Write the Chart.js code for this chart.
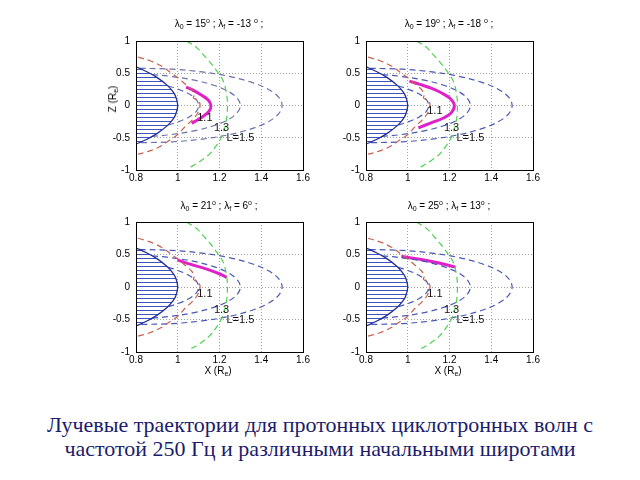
<!DOCTYPE html>
<html><head><meta charset="utf-8">
<script src="https://cdn.jsdelivr.net/npm/chart.js@4/dist/chart.umd.min.js"></script>
<style>
body{margin:0;background:#fff;width:640px;height:480px;position:relative;overflow:hidden;font-family:"Liberation Sans",Arial,sans-serif}
canvas{position:absolute}
.t{position:absolute;font-size:10px;line-height:12px;white-space:nowrap;transform:translate(-50%,-50%);color:#000}
.t sub{font-size:7px;vertical-align:-2px;line-height:0}
.t sup{font-size:7px;vertical-align:4px;line-height:0}
.yl{transform:translate(-50%,-50%) rotate(-90deg)}
.cap{position:absolute;left:0;width:640px;top:413px;text-align:center;font-family:"Liberation Serif","Times New Roman",serif;font-size:22px;line-height:24px;color:#1c1c6a}
</style></head>
<body>
<canvas id="c0" width="222" height="161" style="left:96px;top:29px"></canvas>
<canvas id="c1" width="222" height="161" style="left:326px;top:29px"></canvas>
<canvas id="c2" width="222" height="162" style="left:96px;top:210px"></canvas>
<canvas id="c3" width="222" height="162" style="left:326px;top:210px"></canvas>
<div id="titles"></div>
<div class="t yl" style="left:113px;top:99px">Z (R<sub>e</sub>)</div>
<div class="t" style="left:218px;top:371px">X (R<sub>e</sub>)</div>
<div class="t" style="left:448px;top:371px">X (R<sub>e</sub>)</div>
<div class="cap">Лучевые траектории для протонных циклотронных волн с<br>частотой 250 Гц и различными начальными широтами</div>
<script>
// ---- data ----
const xTicks = [0.8, 1, 1.2, 1.4, 1.6];
const xTickLabels = ['0.8', '1', '1.2', '1.4', '1.6'];
const zTicks = [-1, -0.5, 0, 0.5, 1];
const zTickLabels = ['-1', '-0.5', '0', '0.5', '1'];

const lambda0 = [15, 19, 21, 25];
const lambdaF = ['-13', '-18', '6', '13'];

const earthX = [0.8, 0.85, 0.9, 0.95, 0.975, 0.99, 1.0, 0.99, 0.975, 0.95, 0.9, 0.85, 0.8];
const earthZ = [0.6, 0.527, 0.436, 0.312, 0.222, 0.141, 0, -0.141, -0.222, -0.312, -0.436, -0.527, -0.6];

const l11X = [0.954, 0.991, 1.051, 1.088, 1.1, 1.088, 1.051, 0.991, 0.954];
const l11Z = [0.302, 0.266, 0.185, 0.095, 0, -0.095, -0.185, -0.266, -0.302];
const l13X = [0.877, 0.968, 1.079, 1.172, 1.242, 1.285, 1.3, 1.285, 1.242, 1.172, 1.079, 0.968, 0.877];
const l13Z = [0.48, 0.451, 0.393, 0.314, 0.219, 0.112, 0, -0.112, -0.219, -0.314, -0.393, -0.451, -0.48];
const l15X = [0.817, 0.974, 1.117, 1.245, 1.352, 1.433, 1.483, 1.5, 1.483, 1.433, 1.352, 1.245, 1.117, 0.974, 0.817];
const l15Z = [0.577, 0.563, 0.521, 0.453, 0.362, 0.253, 0.13, 0, -0.13, -0.253, -0.362, -0.453, -0.521, -0.563, -0.577];

const redX = [0.81, 0.87, 0.924, 0.97, 1.0, 1.04, 1.065, 1.08, 1.075, 1.1, 1.107, 1.095, 1.065, 1.04, 1.0, 0.96, 0.924, 0.87, 0.81];
const redZ = [0.75, 0.69, 0.607, 0.5, 0.43, 0.32, 0.25, 0.17, 0.12, 0.07, 0, -0.12, -0.24, -0.31, -0.45, -0.54, -0.62, -0.7, -0.755];

const greenX = [1.043, 1.09, 1.123, 1.16, 1.194, 1.215, 1.228, 1.237, 1.238, 1.237, 1.233, 1.222, 1.21, 1.185, 1.155, 1.11, 1.051];
const greenZ = [1.0, 0.9, 0.786, 0.65, 0.505, 0.4, 0.276, 0.1, 0, -0.12, -0.235, -0.38, -0.49, -0.62, -0.745, -0.86, -0.974];

const trajX = [
  [1.040, 1.075, 1.115, 1.147, 1.159, 1.151, 1.126, 1.094, 1.067],
  [1.008, 1.059, 1.115, 1.163, 1.202, 1.223, 1.21, 1.171, 1.115, 1.051],
  [0.999, 1.059, 1.139, 1.202, 1.234],
  [0.969, 1.059, 1.139, 1.229]
];
const trajZ = [
  [0.286, 0.235, 0.158, 0.082, -0.005, -0.082, -0.158, -0.224, -0.276],
  [0.378, 0.327, 0.265, 0.194, 0.112, 0.005, -0.107, -0.194, -0.265, -0.347],
  [0.418, 0.352, 0.276, 0.2, 0.149],
  [0.468, 0.428, 0.377, 0.306]
];

const lineLabels = ['1.1', '1.3', 'L=1.5'];
const lineLabelX = [1.13, 1.21, 1.30];
const lineLabelZ = [[-0.2, -0.35, -0.5], [-0.09, -0.35, -0.5], [-0.11, -0.35, -0.5], [-0.11, -0.35, -0.5]];

// ---- helpers ----
const pts = (xs, zs) => xs.map((x, i) => ({x: x, y: zs[i]}));

const pc = document.createElement('canvas');
pc.width = 4; pc.height = 4;
const pctx = pc.getContext('2d');
pctx.fillStyle = '#fff'; pctx.fillRect(0, 0, 4, 4);
pctx.fillStyle = '#4055bb'; pctx.fillRect(0, 0, 4, 1);
const hatch = pctx.createPattern(pc, 'repeat');

const BLUES = ['#6a70aa', '#4858b4', '#4858b4', '#4858b4'];
const RED = '#c8604c', GREEN = '#4ed24e', MAG = '#e020c8';

function makeDecor(k) {
  return {
    id: 'decor' + k,
    afterDatasetsDraw(chart) {
      const {ctx, chartArea: a, scales} = chart;
      ctx.save();
      ctx.fillStyle = '#111';
      ctx.font = '11px "Liberation Sans", Arial, sans-serif';
      ctx.textAlign = 'center';
      ctx.textBaseline = 'middle';
      lineLabels.forEach((s, i) => {
        ctx.fillText(s, scales.x.getPixelForValue(lineLabelX[i]), scales.y.getPixelForValue(lineLabelZ[k][i]));
      });
      ctx.strokeStyle = '#000';
      ctx.lineWidth = 1;
      ctx.setLineDash([]);
      ctx.strokeRect(Math.round(a.left) + 0.5, Math.round(a.top) + 0.5, Math.round(a.right - a.left), Math.round(a.bottom - a.top));
      ctx.restore();
    }
  };
}

function dashed(xs, zs, color) {
  return {data: pts(xs, zs), borderColor: color, borderWidth: 1.2, borderDash: [6, 4], showLine: true, pointRadius: 0, tension: 0.35, fill: false};
}

function makeChart(k) {
  const datasets = [
    {data: pts(earthX, earthZ), borderColor: '#1f2f9f', borderWidth: 1.3, backgroundColor: hatch, fill: 'shape', showLine: true, pointRadius: 0, tension: 0.3},
    dashed(redX, redZ, RED),
    dashed(greenX, greenZ, GREEN),
    dashed(l11X, l11Z, BLUES[k]),
    dashed(l13X, l13Z, BLUES[k]),
    dashed(l15X, l15Z, BLUES[k]),
    {data: pts(trajX[k], trajZ[k]), borderColor: MAG, borderWidth: 3, showLine: true, pointRadius: 0, tension: 0.35, fill: false}
  ];
  const tickFont = {family: '"Liberation Sans", Arial, sans-serif', size: 10};
  return new Chart(document.getElementById('c' + k), {
    type: 'scatter',
    data: {datasets},
    options: {
      responsive: false, animation: false, devicePixelRatio: 1,
      layout: {padding: {left: 0, top: 10, right: 15, bottom: 0}},
      plugins: {legend: {display: false}, tooltip: {enabled: false}, title: {display: false}},
      scales: {
        x: {
          type: 'linear', min: 0.8, max: 1.6,
          afterFit: s => { s.height = 20; },
          afterBuildTicks: s => { s.ticks = xTicks.map(v => ({value: v})); },
          ticks: {autoSkip: false, maxRotation: 0, padding: 2, color: '#000', font: tickFont,
                  callback: (v, i) => xTickLabels[i]},
          grid: {color: '#a0a0a0', lineWidth: 1, drawTicks: false, borderDash: [1, 2]},
          border: {display: false, dash: [1, 2]}
        },
        y: {
          type: 'linear', min: -1, max: 1,
          afterFit: s => { s.width = 40; },
          afterBuildTicks: s => { s.ticks = zTicks.map(v => ({value: v})); },
          ticks: {autoSkip: false, padding: 6, color: '#000', font: tickFont,
                  callback: (v, i) => zTickLabels[i]},
          grid: {color: '#a0a0a0', lineWidth: 1, drawTicks: false, borderDash: [1, 2]},
          border: {display: false, dash: [1, 2]}
        }
      }
    },
    plugins: [makeDecor(k)]
  });
}
[0, 1, 2, 3].forEach(makeChart);

// titles
const titlePos = [[219, 24], [449, 24], [219, 206], [449, 206]];
const tdiv = document.getElementById('titles');
lambda0.forEach((l0, k) => {
  const d = document.createElement('div');
  d.className = 't';
  d.style.left = titlePos[k][0] + 'px';
  d.style.top = titlePos[k][1] + 'px';
  d.innerHTML = 'λ<sub>0</sub> = ' + l0 + '<sup>o</sup> ; λ<sub>f</sub> = ' + lambdaF[k] + (k < 2 ? ' ' : '') + '<sup>o</sup> ;';
  tdiv.appendChild(d);
});
</script>
</body></html>
